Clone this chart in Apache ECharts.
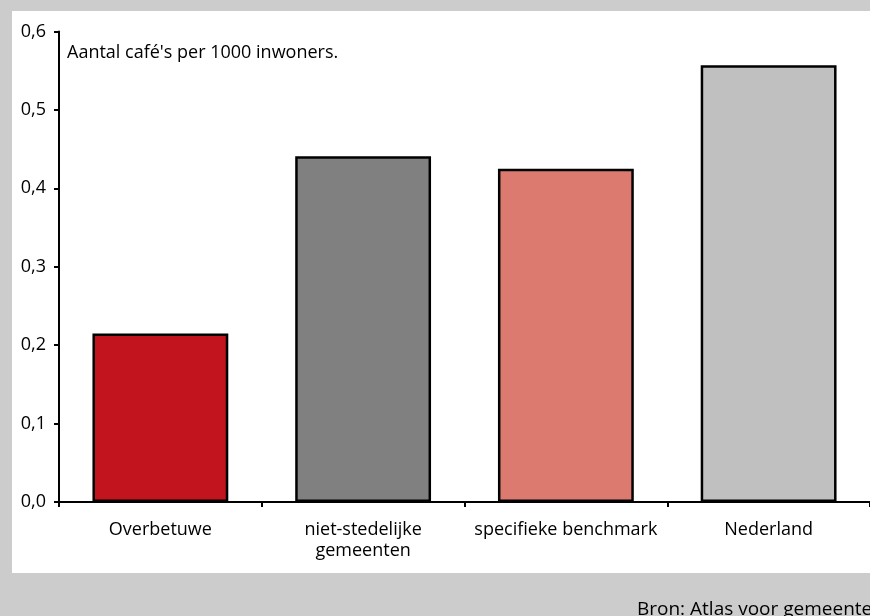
<!DOCTYPE html>
<html>
<head>
<meta charset="utf-8">
<script src="https://cdn.jsdelivr.net/npm/echarts@6/dist/echarts.min.js"></script>
<style>
html,body{margin:0;padding:0;background:#cccccc;}
#c{width:870px;height:616px;}
</style>
</head>
<body>
<div id="c"></div>
<script>
const categories = ['Overbetuwe', 'niet-stedelijke\ngemeenten', 'specifieke benchmark', 'Nederland'];
const values = [0.215, 0.441, 0.425, 0.557];
const barColors = ['#c1141f', '#808080', '#dc7a70', '#c0c0c0'];
const yTicks = [0, 0.1, 0.2, 0.3, 0.4, 0.5, 0.6];
const note = "Aantal café's per 1000 inwoners.";
const source = 'Bron: Atlas voor gemeenten';

const FONT = '"Open Sans", "Noto Sans", sans-serif';
const FS = 18;
const chart = echarts.init(document.getElementById('c'), null, {renderer: 'canvas'});
chart.setOption({
  backgroundColor: '#cccccc',
  animation: false,
  graphic: [
    {type: 'rect', z: -10, shape: {x: 12, y: 11, width: 870, height: 562}, style: {fill: '#ffffff'}},
    {type: 'text', left: 67, top: 44, style: {text: note, fontFamily: FONT, fontSize: FS, fill: '#000'}},
    {type: 'text', left: 637, top: 600, style: {text: source, fontFamily: FONT, fontSize: 19, fill: '#000'}}
  ],
  grid: {left: 59, right: -5, top: 31.5, bottom: 114, containLabel: false},
  xAxis: {
    type: 'category',
    data: categories,
    axisLine: {lineStyle: {color: '#000', width: 2}},
    axisTick: {show: true, length: 5, lineStyle: {color: '#000', width: 2}, alignWithLabel: false},
    axisLabel: {color: '#000', fontFamily: FONT, fontSize: FS, margin: 17, lineHeight: 21, interval: 0}
  },
  yAxis: {
    type: 'value',
    min: 0, max: 0.6, interval: 0.1,
    axisLine: {show: true, lineStyle: {color: '#000', width: 2}},
    axisTick: {show: true, length: 5, lineStyle: {color: '#000', width: 2}},
    splitLine: {show: false},
    axisLabel: {color: '#000', fontFamily: FONT, fontSize: FS, margin: 13,
      formatter: v => v.toFixed(1).replace('.', ',')}
  },
  series: [{
    type: 'bar',
    barWidth: '67%',
    data: values.map((v, i) => ({value: v, itemStyle: {color: barColors[i]}})),
    itemStyle: {borderColor: '#000', borderWidth: 2.5}
  }]
});
</script>
</body>
</html>
